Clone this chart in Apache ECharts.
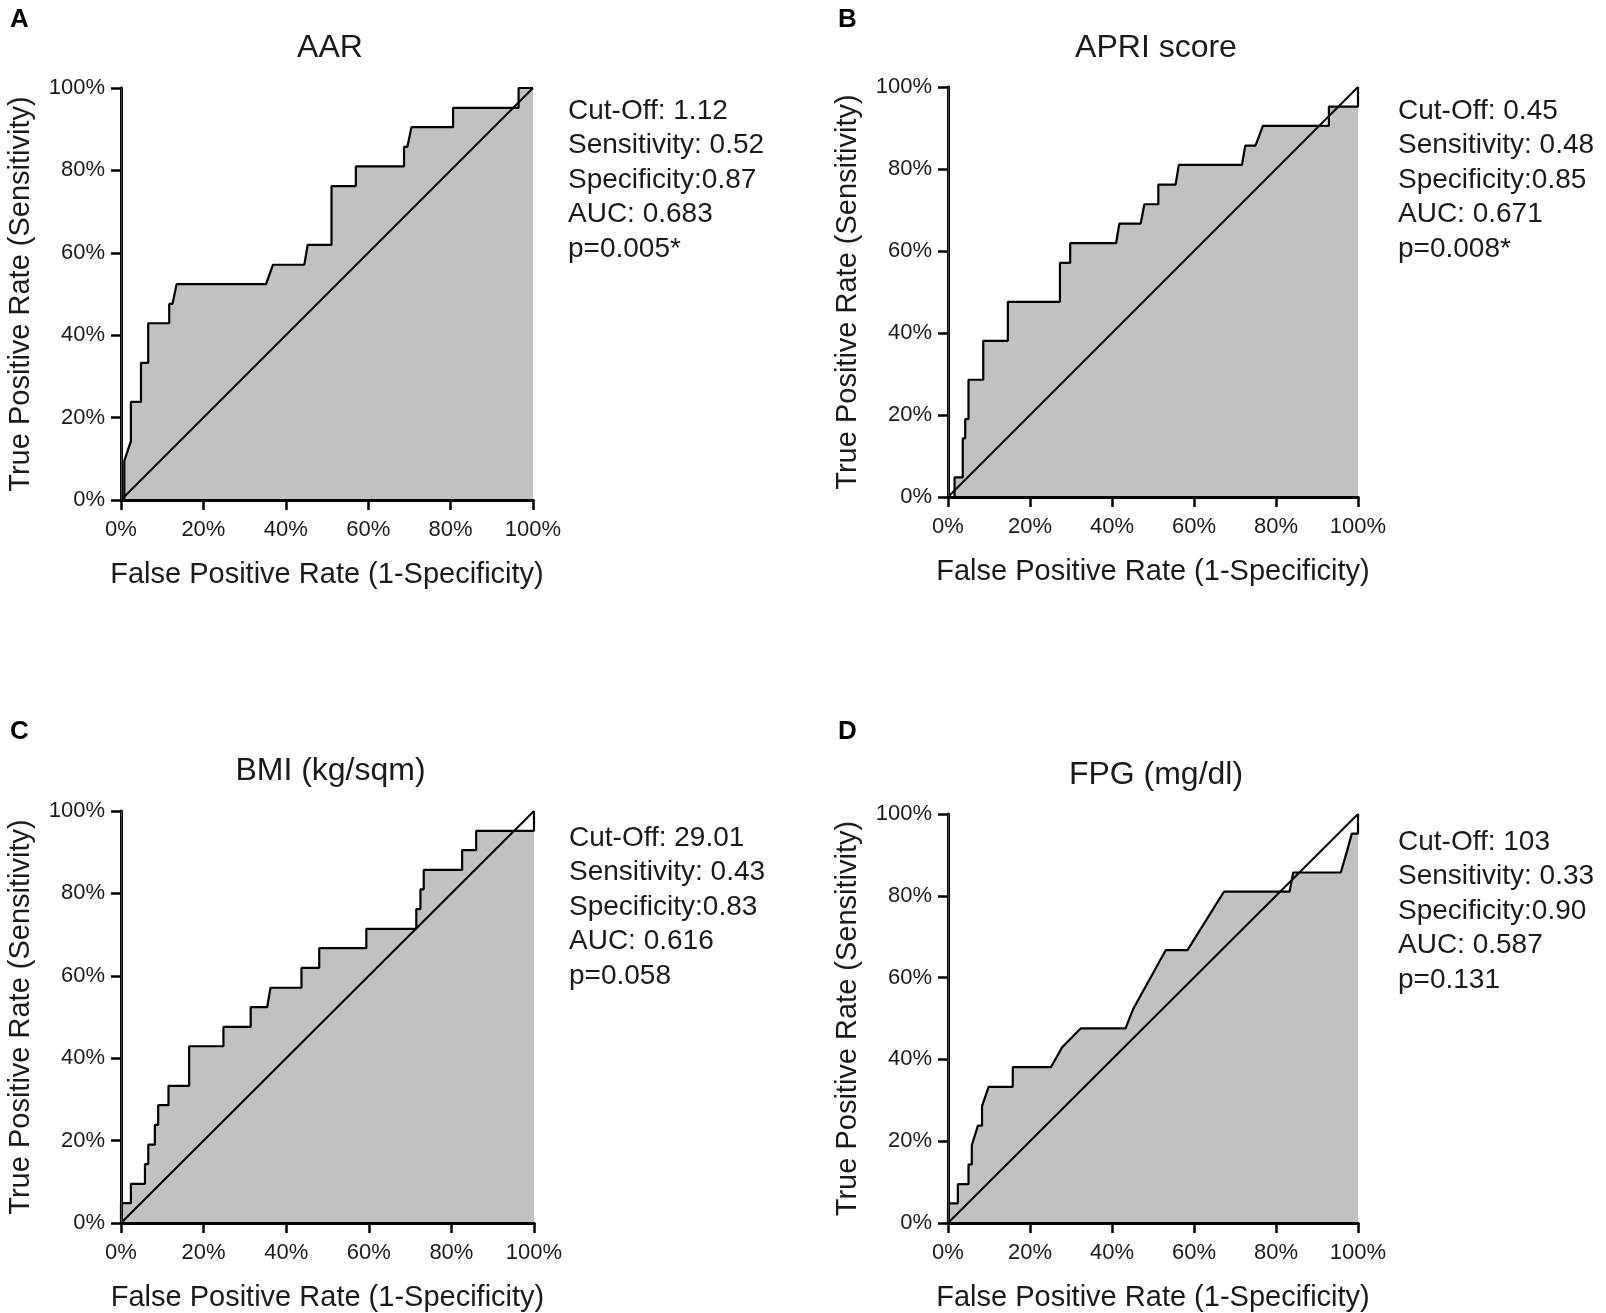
<!DOCTYPE html>
<html lang="en">
<head>
  <meta charset="UTF-8">
  <title>ROC curves</title>
  <script src="https://cdn.jsdelivr.net/npm/echarts@6/dist/echarts.min.js"></script>
  <style>
    html, body { margin: 0; padding: 0; background: #fff; }
    #roc { width: 1606px; height: 1313px; }
  </style>
</head>
<body>
  <div id="roc"></div>
<script>
  // ROC points, in percent
  const aarFpr = [0, 0.8, 0.8, 2.4, 2.4, 4.85, 4.85, 6.6, 6.6, 11.7, 11.7, 12.5, 13.5, 35.2, 36.9, 44.5, 45.3, 51.1, 51.1, 57.0, 57.0, 68.7, 68.7, 69.5, 70.5, 80.6, 80.6, 96.5, 96.5, 100];
  const aarTpr = [0, 0, 9.5, 14.3, 23.8, 23.8, 33.3, 33.3, 42.9, 42.9, 47.6, 47.6, 52.4, 52.4, 57.1, 57.1, 61.9, 61.9, 76.2, 76.2, 81.0, 81.0, 85.7, 85.7, 90.5, 90.5, 95.2, 95.2, 100, 100];

  const apriFpr = [0, 1.6, 1.6, 3.6, 3.6, 4.2, 4.2, 5.0, 5.0, 8.6, 8.6, 14.6, 14.6, 27.3, 27.3, 29.8, 29.8, 41.0, 41.8, 47.0, 47.9, 51.3, 51.3, 55.5, 56.3, 71.7, 72.5, 75.0, 76.8, 92.9, 92.9, 100, 100];
  const apriTpr = [0, 0, 4.8, 4.8, 14.3, 14.3, 19.0, 19.0, 28.6, 28.6, 38.1, 38.1, 47.6, 47.6, 57.1, 57.1, 61.9, 61.9, 66.7, 66.7, 71.4, 71.4, 76.2, 76.2, 81.0, 81.0, 85.7, 85.7, 90.5, 90.5, 95.2, 95.2, 100];

  const bmiFpr = [0, 0, 2.4, 2.4, 5.8, 5.8, 6.6, 6.6, 8.2, 8.2, 9.0, 9.0, 11.5, 11.5, 16.5, 16.5, 24.8, 24.8, 31.4, 31.4, 35.4, 36.2, 43.7, 43.7, 48.0, 48.0, 59.4, 59.4, 71.5, 71.5, 72.5, 72.5, 73.3, 73.3, 82.6, 82.6, 86.0, 86.0, 100, 100];
  const bmiTpr = [0, 4.8, 4.8, 9.5, 9.5, 14.3, 14.3, 19.0, 19.0, 23.8, 23.8, 28.6, 28.6, 33.3, 33.3, 42.9, 42.9, 47.6, 47.6, 52.4, 52.4, 57.1, 57.1, 61.9, 61.9, 66.7, 66.7, 71.4, 71.4, 76.2, 76.2, 81.0, 81.0, 85.7, 85.7, 90.5, 90.5, 95.2, 95.2, 100];

  const fpgFpr = [0, 0, 2.4, 2.4, 5.0, 5.0, 5.8, 5.8, 7.3, 8.3, 8.3, 9.9, 15.8, 15.8, 25.1, 27.8, 32.4, 43.3, 45.2, 53.1, 58.4, 67.3, 83.3, 84.2, 95.8, 97.2, 98.5, 100, 100];
  const fpgTpr = [0, 4.8, 4.8, 9.5, 9.5, 14.3, 14.3, 19.0, 23.8, 23.8, 28.6, 33.3, 33.3, 38.1, 38.1, 42.9, 47.6, 47.6, 52.4, 66.7, 66.7, 81.0, 81.0, 85.7, 85.7, 90.5, 95.2, 95.2, 100];

  const panelLetters = ['A', 'B', 'C', 'D'];
  const panelTitles = ['AAR', 'APRI score', 'BMI (kg/sqm)', 'FPG (mg/dl)'];
  const panelStats = [
    ['Cut-Off: 1.12', 'Sensitivity: 0.52', 'Specificity:0.87', 'AUC: 0.683', 'p=0.005*'],
    ['Cut-Off: 0.45', 'Sensitivity: 0.48', 'Specificity:0.85', 'AUC: 0.671', 'p=0.008*'],
    ['Cut-Off: 29.01', 'Sensitivity: 0.43', 'Specificity:0.83', 'AUC: 0.616', 'p=0.058'],
    ['Cut-Off: 103', 'Sensitivity: 0.33', 'Specificity:0.90', 'AUC: 0.587', 'p=0.131']
  ];
  const chanceLine = [[0, 0], [100, 100]];
  const tickStep = 20;

  const font = "'Liberation Sans', Arial, sans-serif";
  const ink = '#1a1a1a';

  const curves = [
    [aarFpr, aarTpr],
    [apriFpr, apriTpr],
    [bmiFpr, bmiTpr],
    [fpgFpr, fpgTpr]
  ];

  // plot boxes
  const boxes = [
    { left: 121, top: 88, width: 412, height: 412 },
    { left: 948, top: 87, width: 410, height: 410 },
    { left: 121, top: 811, width: 413, height: 413 },
    { left: 948, top: 814, width: 410, height: 410 }
  ];
  const titleTops = [27, 27, 750, 754];
  const letterTops = [2, 2, 714, 714];
  const statTops = [89, 89, 816, 820];

  const grid = boxes.map(b => Object.assign({ containLabel: false }, b));
  const xAxis = [];
  const yAxis = [];
  const series = [];
  const title = [];

  boxes.forEach((b, i) => {
    xAxis.push({
      gridIndex: i, type: 'value', min: 0, max: 100, interval: tickStep, z: 10,
      name: 'False Positive Rate (1-Specificity)', nameLocation: 'middle', nameGap: 60,
      nameTextStyle: { fontFamily: font, fontSize: 29, color: ink },
      axisLine: { lineStyle: { color: '#000', width: 3 } },
      axisTick: { length: 10, lineStyle: { color: '#000', width: 2.5 } },
      axisLabel: { formatter: '{value}%', margin: 19, fontFamily: font, fontSize: 22, color: ink },
      splitLine: { show: false }
    });
    xAxis.push({
      gridIndex: i, type: 'value', position: 'top', min: 0, max: 100, z: 10,
      axisLine: { show: true, lineStyle: { color: '#000', width: 3 } },
      axisTick: { show: false }, axisLabel: { show: false }, splitLine: { show: false }
    });
    yAxis.push({
      gridIndex: i, type: 'value', min: 0, max: 100, interval: tickStep, z: 10,
      name: 'True Positive Rate (Sensitivity)', nameLocation: 'middle', nameGap: 86,
      nameTextStyle: { fontFamily: font, fontSize: 29, color: ink },
      axisLine: { show: true, lineStyle: { color: '#000', width: 3 } },
      axisTick: { show: true, length: 10, lineStyle: { color: '#000', width: 2.5 } },
      axisLabel: { formatter: '{value}%', margin: 16, fontFamily: font, fontSize: 22, color: ink },
      splitLine: { show: false }
    });
    yAxis.push({
      gridIndex: i, type: 'value', position: 'right', min: 0, max: 100, z: 10,
      axisLine: { show: true, lineStyle: { color: '#444', width: 1 } },
      axisTick: { show: false }, axisLabel: { show: false }, splitLine: { show: false }
    });

    const [fpr, tpr] = curves[i];
    series.push({
      type: 'line', xAxisIndex: i * 2, yAxisIndex: i * 2,
      data: fpr.map((x, k) => [x, tpr[k]]),
      showSymbol: false, silent: true, z: 2,
      lineStyle: { color: '#000', width: 2.2 },
      areaStyle: { color: '#c1c1c1', opacity: 1 }
    });
    series.push({
      type: 'line', xAxisIndex: i * 2, yAxisIndex: i * 2,
      data: chanceLine, showSymbol: false, silent: true, z: 3,
      lineStyle: { color: '#000', width: 2 }
    });

    title.push({
      text: panelLetters[i], left: i % 2 === 0 ? 5 : 833, top: letterTops[i],
      textStyle: { fontFamily: font, fontSize: 26, fontWeight: 'bold', color: '#000' }
    });
    title.push({
      text: panelTitles[i], left: b.left + b.width / 2 - 2, top: titleTops[i], textAlign: 'center',
      textStyle: { fontFamily: font, fontSize: 32, fontWeight: 'normal', color: ink }
    });
    title.push({
      text: panelStats[i].join('\n'), left: b.left + b.width + 30 + (i % 2) * 5, top: statTops[i],
      textStyle: { fontFamily: font, fontSize: 28, fontWeight: 'normal', color: ink, lineHeight: 34.5 }
    });
  });

  const chart = echarts.init(document.getElementById('roc'));
  chart.setOption({
    backgroundColor: '#fff',
    animation: false,
    title: title,
    grid: grid,
    xAxis: xAxis,
    yAxis: yAxis,
    series: series
  });
</script>
</body>
</html>
